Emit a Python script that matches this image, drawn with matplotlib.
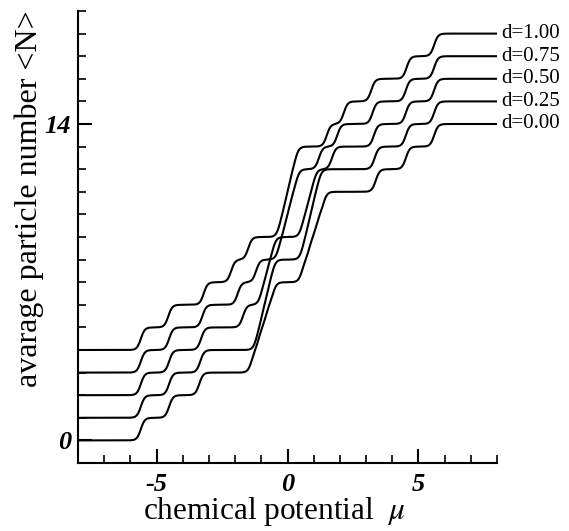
import matplotlib
matplotlib.use('Agg')
import matplotlib.pyplot as plt
import numpy as np

plt.rcParams['font.family'] = ['Liberation Serif', 'DejaVu Serif']
plt.rcParams['mathtext.fontset'] = 'stix'
plt.rcParams['axes.unicode_minus'] = False

# ------ data ------
# step positions (level energies) in mu for every curve, 14 levels each
d_labels = ['d=0.00', 'd=0.25', 'd=0.50', 'd=0.75', 'd=1.00']
offsets = [0, 1, 2, 3, 4]   # curves shifted up by 4d
levels_d000 = [-5.6, -4.52, -3.37, -1.37, -1.10, -0.83, -0.56,
               0.56, 0.83, 1.10, 1.37, 3.37, 4.52, 5.6]
levels_d025 = [-5.6, -4.52, -3.33, -1.18, -0.98, -0.78, -0.58,
               0.58, 0.78, 0.98, 1.18, 3.33, 4.52, 5.6]
levels_d050 = [-5.6, -4.52, -3.30, -1.70, -1.00, -0.78, -0.56,
               0.56, 0.78, 1.00, 1.70, 3.30, 4.52, 5.6]
levels_d075 = [-5.6, -4.52, -3.25, -1.90, -1.20, -0.33, -0.11,
               0.11, 0.33, 1.20, 1.90, 3.25, 4.52, 5.6]
levels_d100 = [-5.6, -4.55, -3.20, -2.15, -1.50, -0.30, -0.10,
               0.10, 0.30, 1.50, 2.15, 3.20, 4.55, 5.6]
all_levels = [levels_d000, levels_d025, levels_d050, levels_d075, levels_d100]
temp = 0.075   # smearing of the steps

mu = np.linspace(-8, 8, 1601)

def occupation(levels, offset):
    n = np.full_like(mu, float(offset))
    for e in levels:
        n += 1.0 / (1.0 + np.exp((e - mu) / temp))
    return n

# ------ figure ------
fig = plt.figure(figsize=(5.69, 5.31), dpi=100)
ax = fig.add_axes([78/569, 1-463/531, 419/569, 452/531])

for lev, off, lab in zip(all_levels, offsets, d_labels):
    n = occupation(lev, off)
    ax.plot(mu, n, color='black', lw=1.5)
    ax.text(8.15, off + 14, lab, fontsize=15, va='center', ha='left', clip_on=False)

ax.set_xlim(-8, 8)
ax.set_ylim(-1, 19)
for s in ['top', 'right']:
    ax.spines[s].set_visible(False)
for s in ['left', 'bottom']:
    ax.spines[s].set_linewidth(1.5)

ax.set_xticks([-5, 0, 5])
ax.set_xticks(np.arange(-8, 9, 1), minor=True)
ax.set_yticks([0, 14])
ax.set_yticks(np.arange(-1, 20, 1), minor=True)
ax.tick_params(which='major', direction='in', length=10, width=1.5, labelsize=19)
ax.tick_params(axis='x', which='major', pad=7)
ax.tick_params(axis='y', which='major', pad=5)
ax.tick_params(which='minor', direction='in', length=6, width=1.2)
for lbl in ax.get_xticklabels() + ax.get_yticklabels():
    lbl.set_fontweight('bold')
    lbl.set_fontstyle('italic')

fig.text(274/569, 1-512/531, r'chemical potential  $\mu$', fontsize=22.5, ha='center', va='center')
fig.text(29/569, 1-199/531, 'avarage particle number <N>', fontsize=23, rotation=90,
         ha='center', va='center')

plt.savefig('out.png', dpi=100)
